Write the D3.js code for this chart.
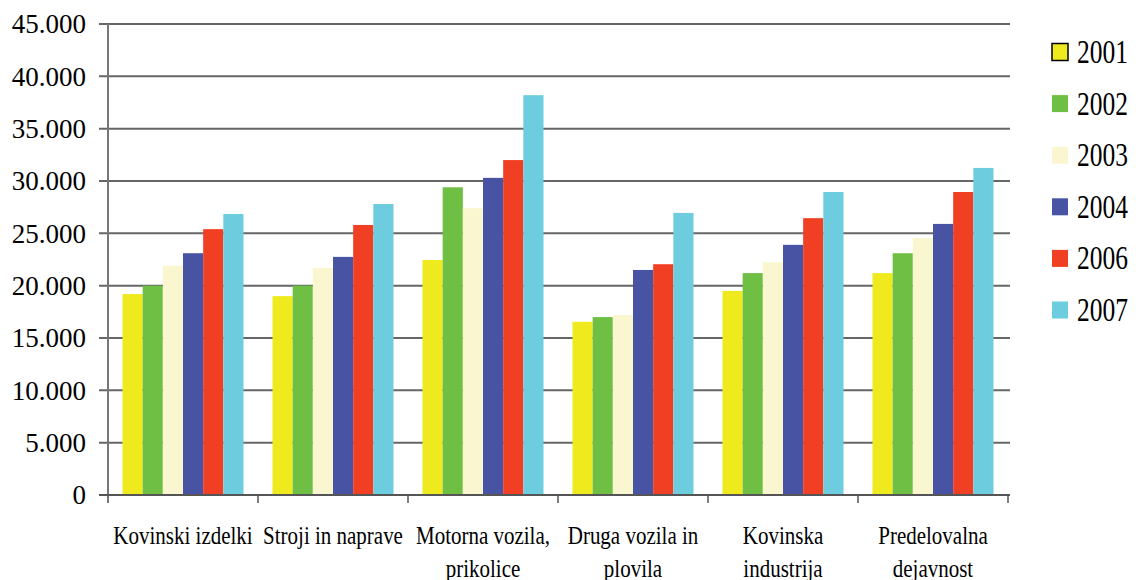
<!DOCTYPE html>
<html><head><meta charset="utf-8">
<script src="https://cdn.jsdelivr.net/npm/d3@7"></script>
<style>body{margin:0;background:#fff}svg{display:block}text{font-family:"Liberation Serif","Times New Roman",serif;fill:#000}</style>
</head><body><svg id="c" width="1136" height="580"></svg>
<script>
const categories = [["Kovinski izdelki"],["Stroji in naprave"],["Motorna vozila,","prikolice"],["Druga vozila in","plovila"],["Kovinska","industrija"],["Predelovalna","dejavnost"]];
const years = ["2001","2002","2003","2004","2006","2007"];
const colors = ["#EEEA1E","#6FBF44","#FAF7D0","#4853A3","#F03F22","#6DCCDD"];
const v2001 = [19200,19000,22450,16550,19500,21200];
const v2002 = [20000,20000,29400,17000,21200,23100];
const v2003 = [21900,21700,27400,17200,22250,24550];
const v2004 = [23100,22750,30300,21500,23900,25900];
const v2006 = [25400,25800,32000,22050,26450,28950];
const v2007 = [26850,27800,38200,26950,28950,31250];
const yTicks = [0,5000,10000,15000,20000,25000,30000,35000,40000,45000];
const series = [v2001,v2002,v2003,v2004,v2006,v2007];

const svg = d3.select("#c");
const catKeys = categories.map(c=>c.join(" "));
const x0 = d3.scaleBand().domain(catKeys).range([108,1008]);
const x1 = d3.scaleBand().domain(years).range([14.5,135.5]);
const y = d3.scaleLinear().domain([0,45000]).range([495,24]);
const fmt = d => d===0 ? "0" : d3.format(",")(d).replace(/,/g,".");

// gridlines
svg.append("g").selectAll("line").data(yTicks).join("line")
  .attr("x1",99).attr("x2",1010).attr("y1",d=>y(d)).attr("y2",d=>y(d))
  .attr("stroke","#666").attr("stroke-width",2);

// bars
const g = svg.append("g");
catKeys.forEach((c,i)=>{
  years.forEach((yr,j)=>{
    const v = series[j][i];
    g.append("rect").attr("x",x0(c)+x1(yr)).attr("width",x1.bandwidth())
      .attr("y",y(v)).attr("height",y(0)-y(v)).attr("fill",colors[j]);
  });
});

// axes lines
svg.append("line").attr("x1",108).attr("x2",108).attr("y1",24).attr("y2",503).attr("stroke","#777").attr("stroke-width",2);
svg.append("line").attr("x1",99).attr("x2",1010).attr("y1",495).attr("y2",495).attr("stroke","#555").attr("stroke-width",2);
svg.append("g").selectAll("line").data(catKeys.slice(1).concat(["end"])).join("line")
  .attr("x1",(d,i)=>108+(i+1)*x0.bandwidth()).attr("x2",(d,i)=>108+(i+1)*x0.bandwidth())
  .attr("y1",495).attr("y2",503).attr("stroke","#555").attr("stroke-width",1.5);

// y labels
svg.append("g").selectAll("text").data(yTicks).join("text")
  .attr("x",86).attr("y",d=>y(d)).attr("dy","0.35em").attr("text-anchor","end")
  .attr("font-size",27).text(fmt);

// x labels
categories.forEach((lines,i)=>{
  const cx = x0(catKeys[i]) + x0.bandwidth()/2;
  lines.forEach((t,k)=>{
    const by = 544 + k*33;
    svg.append("text").attr("transform",`translate(${cx},${by}) scale(1,1.22)`)
      .attr("text-anchor","middle").attr("font-size",21).text(t);
  });
});

// legend
const lg = svg.append("g");
years.forEach((yr,j)=>{
  const cy = 52 + j*51.6;
  lg.append("rect").attr("x",1052).attr("y",cy-8.5).attr("width",16).attr("height",17)
    .attr("fill",colors[j]).attr("stroke",j===0?"#000":"none").attr("stroke-width",1.5);
  lg.append("text").attr("transform",`translate(1077,${cy+11}) scale(1,1.3)`)
    .attr("font-size",25.5).text(yr);
});
</script></body></html>
